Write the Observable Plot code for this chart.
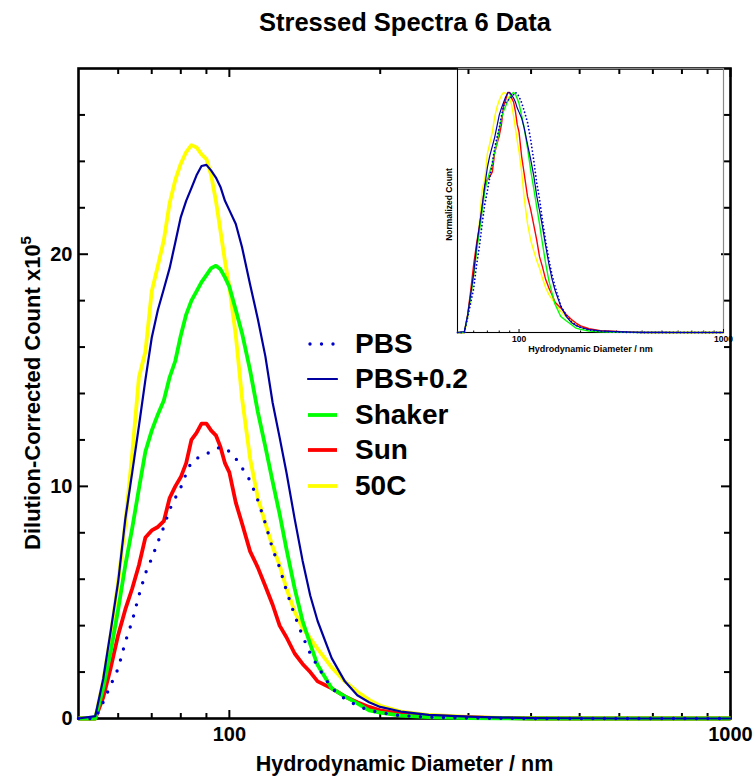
<!DOCTYPE html>
<html>
<head>
<meta charset="utf-8">
<script src="https://cdn.jsdelivr.net/npm/d3@7"></script>
<script src="https://cdn.jsdelivr.net/npm/@observablehq/plot@0.6"></script>
<style>
  body { margin: 0; background: #fff; font-family: "Liberation Sans", Arial, sans-serif; }
  #wrap { position: relative; width: 753px; height: 778px; overflow: hidden; }
  #title { position: absolute; left: 0; top: 7px; width: 753px; box-sizing: border-box; padding-left: 57px;
           text-align: center; font-weight: bold; font-size: 25.5px; line-height: 30px; color: #000; }
  #main { position: absolute; left: 0; top: 50px; }
  #inset { position: absolute; left: 437px; top: 50px; }
  #legend { position: absolute; left: 0; top: 0; }
  .lrow { position: absolute; left: 306px; height: 32px; display: flex; align-items: center; }
  .lrow span { font-weight: bold; font-size: 28px; margin-left: 17px; color: #000; }
</style>
</head>
<body>
<div id="wrap">
  <div id="title">Stressed Spectra 6 Data</div>
  <div id="main"></div>
  <div id="inset"></div>
  <div id="legend"></div>
</div>
<script>
// ---- data ----
const diameters = [50, 54, 56, 58, 60, 62, 64, 66, 68, 70,
                   72, 74, 76, 78, 80, 82, 84, 86, 88, 90,
                   92, 94, 96, 98, 100, 103, 106, 110, 114, 118,
                   122, 126, 130, 135, 140, 145, 150, 160, 170, 180,
                   190, 200, 220, 250, 300, 350, 400, 500, 600, 700,
                   800, 900, 1000];

const pbs = [0, 0, 0.7, 1.45, 2.15, 3.3, 4.2, 5.3, 6.25, 6.9,
             7.6, 8.25, 9.0, 9.5, 9.95, 10.55, 11.05, 11.2, 11.3, 11.4,
             11.5, 11.6, 11.7, 11.65, 11.5, 11.2, 10.8, 10.25, 9.4, 8.4,
             7.3, 6.5, 5.5, 4.45, 3.55, 2.8, 2.25, 1.3, 0.85, 0.55,
             0.35, 0.25, 0.12, 0.06, 0.02, 0.01, 0, 0, 0, 0,
             0, 0, 0];

const pbsPlus = [0, 0.1, 1.7, 3.8, 5.9, 8.6, 10.6, 12.6, 14.6, 16.4,
                 17.6, 18.5, 19.4, 20.5, 21.6, 22.3, 22.85, 23.4, 23.8, 23.85,
                 23.6, 23.3, 22.9, 22.3, 21.9, 21.3, 20.3, 18.7, 17.2, 15.6,
                 13.6, 12.1, 10.6, 8.6, 6.8, 5.3, 4.2, 2.6, 1.6, 1.0,
                 0.7, 0.5, 0.3, 0.16, 0.08, 0.04, 0.02, 0.01, 0, 0,
                 0, 0, 0];

const shaker = [0, 0, 1.3, 2.9, 4.7, 6.6, 8.2, 9.9, 11.5, 12.4,
                13.1, 13.7, 14.7, 15.4, 16.5, 17.4, 18.0, 18.4, 18.8, 19.1,
                19.4, 19.5, 19.35, 19.0, 18.6, 17.6, 16.6, 15.0, 13.2, 11.7,
                10.2, 8.8, 7.3, 5.6, 4.2, 3.2, 2.3, 1.3, 0.95, 0.65,
                0.35, 0.25, 0.12, 0.06, 0.02, 0.01, 0, 0, 0, 0,
                0, 0, 0];

const sun = [0, 0, 0.9, 2.2, 3.6, 4.7, 5.6, 6.6, 7.8, 8.1,
             8.25, 8.5, 9.5, 10.0, 10.4, 11.0, 12.0, 12.3, 12.7, 12.7,
             12.4, 12.2, 11.7, 11.0, 10.6, 9.3, 8.4, 7.2, 6.5, 5.7,
             4.9, 4.0, 3.5, 2.8, 2.35, 2.0, 1.6, 1.3, 0.95, 0.7,
             0.5, 0.35, 0.2, 0.1, 0.05, 0.02, 0, 0, 0, 0,
             0, 0, 0];

const heated50C = [0, 0, 1.6, 3.6, 5.9, 8.4, 11.4, 14.7, 15.8, 18.4,
                   19.5, 20.6, 22.2, 23.2, 23.9, 24.4, 24.7, 24.6, 24.3, 24.1,
                   23.4, 22.3, 21.0, 19.7, 18.6, 16.5, 13.8, 11.2, 9.5, 8.4,
                   7.4, 6.6, 5.6, 4.6, 3.9, 3.45, 3.0, 2.2, 1.6, 1.15,
                   0.8, 0.55, 0.3, 0.15, 0.07, 0.03, 0.01, 0, 0, 0,
                   0, 0, 0];

const seriesNames  = ["PBS", "PBS+0.2", "Shaker", "Sun", "50C"];
const seriesColors = ["#0000cc", "#0000a0", "#00ff00", "#ff0000", "#ffff00"];
const drawOrder    = ["50C", "Sun", "Shaker", "PBS+0.2", "PBS"];

const xLabelTicks = [100, 1000];
const xMinorTicks = [60, 70, 80, 90, 200, 300, 400, 500, 600, 700, 800, 900];
const yLabelTicks = [0, 10, 20];
const yMinorTicks = [2, 4, 6, 8, 12, 14, 16, 18, 22, 24, 26];

const xTitle = "Hydrodynamic Diameter / nm";
const yTitle = "Dilution-Corrected Count x10";
const yTitleExp = "5";
const insetYTitle = "Normalized Count";

// ---- build tidy rows ----
const valuesBySeries = [pbs, pbsPlus, shaker, sun, heated50C];
const rows = valuesBySeries.flatMap((vals, i) =>
  vals.map((v, j) => ({d: diameters[j], v, series: seriesNames[i]})));
const colorOf = Object.fromEntries(seriesNames.map((n, i) => [n, seriesColors[i]]));

const FONT = "Liberation Sans, Arial, sans-serif";

function seriesStyle(name, inset) {
  const base = {stroke: colorOf[name], strokeLinejoin: "round", strokeLinecap: "round"};
  if (name === "PBS") return {...base, strokeWidth: inset ? 1.8 : 3.4, strokeDasharray: inset ? "0,3.6" : "0,11.5"};
  if (name === "PBS+0.2") return {...base, strokeWidth: inset ? 1.2 : 2.2};
  return {...base, strokeWidth: inset ? 1.4 : 3.8, strokeLinecap: "butt"};
}

// inward-pointing tick helpers (anchor opposite to the frame side)
const noText = () => "";
function inTicksX(side, ticks, size, sw) {
  return Plot.axisX({anchor: side === "bottom" ? "top" : "bottom", frameAnchor: side,
                     ticks, tickSize: size, tickFormat: noText, label: null, strokeWidth: sw});
}
function inTicksY(side, ticks, size, sw) {
  return Plot.axisY({anchor: side === "left" ? "right" : "left", frameAnchor: side,
                     ticks, tickSize: size, tickFormat: noText, label: null, strokeWidth: sw});
}

// ---- main chart ----
const mainMarks = [
  inTicksX("bottom", xMinorTicks, 6, 2),
  inTicksX("bottom", xLabelTicks, 9, 2),
  inTicksX("top", xMinorTicks, 6, 2),
  inTicksX("top", xLabelTicks, 9, 2),
  inTicksY("left", yMinorTicks, 6, 2),
  inTicksY("left", yLabelTicks, 9, 2),
  inTicksY("right", yMinorTicks, 6, 2),
  inTicksY("right", yLabelTicks, 9, 2),
  Plot.axisX({anchor: "bottom", ticks: xLabelTicks, tickSize: 0, tickPadding: 8, tickFormat: d => String(d),
              label: null, fontSize: 20, fontWeight: "bold", fill: "#000"}),
  Plot.axisY({anchor: "left", ticks: yLabelTicks, tickSize: 0, tickPadding: 6, tickFormat: d => String(d),
              label: null, fontSize: 20, fontWeight: "bold", fill: "#000"}),
  Plot.frame({stroke: "#000", strokeWidth: 2.6}),
  ...drawOrder.map(name =>
    Plot.line(rows.filter(r => r.series === name), {x: "d", y: "v", ...seriesStyle(name, false)})),
  Plot.text([xTitle], {text: d => d, frameAnchor: "bottom", dy: 52, fontSize: 21.5, fontWeight: "bold", fill: "#000"})
];

const main = Plot.plot({
  width: 753, height: 728,
  marginLeft: 78, marginRight: 23, marginTop: 18, marginBottom: 60,
  style: {fontFamily: FONT, background: "transparent", overflow: "visible", color: "#000"},
  x: {type: "log", domain: [50, 1000]},
  y: {domain: [0, 28]},
  marks: mainMarks
});
document.getElementById("main").appendChild(main);

// y title with superscript exponent
const svgMain = d3.select(main);
const yt = svgMain.append("text")
  .attr("transform", "translate(40,343) rotate(-90)")
  .attr("text-anchor", "middle")
  .attr("font-family", FONT)
  .attr("font-weight", "bold")
  .attr("font-size", 22)
  .attr("fill", "#000");
yt.append("tspan").text(yTitle);
yt.append("tspan").attr("font-size", 15).attr("dy", -9).text(yTitleExp);

// ---- inset chart (normalized) ----
const insetMarks = [
  Plot.frame({stroke: "#8a8a8a", strokeWidth: 1.2}),
  Plot.ruleY([0], {stroke: "#000", strokeWidth: 1.2}),
  Plot.ruleX([50], {stroke: "#000", strokeWidth: 1}),
  inTicksX("bottom", xMinorTicks, 2.5, 1),
  inTicksX("bottom", xLabelTicks, 4, 1),
  Plot.axisX({anchor: "bottom", ticks: xLabelTicks, tickSize: 0, tickPadding: 3, tickFormat: d => String(d),
              label: null, fontSize: 8.5, fontWeight: "bold", fill: "#000"}),
  ...drawOrder.map(name =>
    Plot.line(rows.filter(r => r.series === name),
      Plot.normalizeY("max", {x: "d", y: "v", ...seriesStyle(name, true)}))),
  Plot.text([xTitle], {text: d => d, frameAnchor: "bottom", dy: 19, fontSize: 9, fontWeight: "bold", fill: "#000"}),
  Plot.text([insetYTitle], {text: d => d, frameAnchor: "left", textAnchor: "middle", rotate: -90,
                            dx: -8, dy: 4, fontSize: 8.5, fontWeight: "bold", fill: "#000"})
];

const inset = Plot.plot({
  width: 316, height: 310,
  marginLeft: 20, marginRight: 30, marginTop: 18, marginBottom: 28,
  style: {fontFamily: FONT, background: "transparent", overflow: "visible", color: "#000"},
  x: {type: "log", domain: [50, 1000]},
  y: {domain: [0, 1.1], axis: null},
  marks: insetMarks
});
document.getElementById("inset").appendChild(inset);

// ---- legend ----
const legendTop = [328, 363, 399, 434, 470];
const legend = document.getElementById("legend");
seriesNames.forEach((name, i) => {
  const row = document.createElement("div");
  row.className = "lrow";
  row.style.top = legendTop[i] + "px";
  const st = seriesStyle(name, false);
  const sw = d3.create("svg").attr("width", 32).attr("height", 10);
  sw.append("line").attr("x1", name === "PBS" ? 4 : 2).attr("x2", 31).attr("y1", 5).attr("y2", 5)
    .attr("stroke", st.stroke).attr("stroke-width", st.strokeWidth)
    .attr("stroke-linecap", st.strokeLinecap)
    .attr("stroke-dasharray", st.strokeDasharray || null);
  row.appendChild(sw.node());
  const t = document.createElement("span");
  t.textContent = name;
  row.appendChild(t);
  legend.appendChild(row);
});
</script>
</body>
</html>
